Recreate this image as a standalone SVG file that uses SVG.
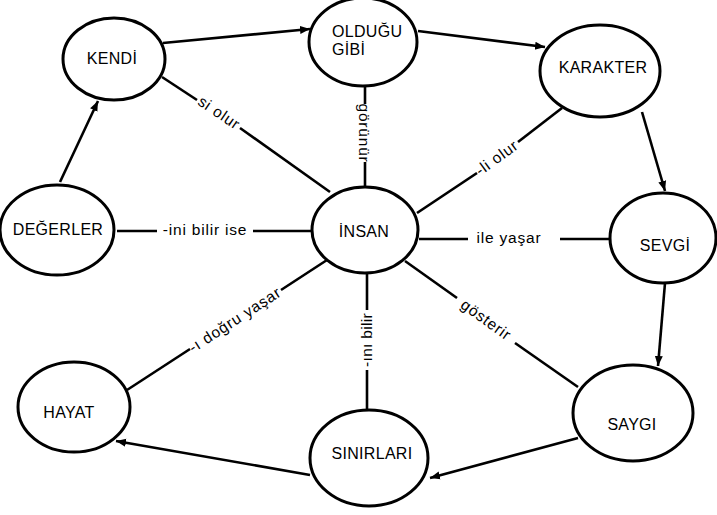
<svg xmlns="http://www.w3.org/2000/svg" width="717" height="515" viewBox="0 0 717 515">
<style>
.node ellipse{fill:#fff;stroke:#000;stroke-width:3}
.node text{font-family:"Liberation Sans",Arial,sans-serif;font-size:16px;fill:#000;text-anchor:middle;letter-spacing:0.3px}
.edges line{stroke:#000;stroke-width:2.6;fill:none}
.lbl{font-family:"Liberation Sans",Arial,sans-serif;font-size:15.5px;fill:#000;text-anchor:middle;letter-spacing:0.8px}
</style>
<defs>
<marker id="arr" markerUnits="userSpaceOnUse" markerWidth="11" markerHeight="10" refX="10" refY="5" orient="auto">
<path d="M0,1 L10,5 L0,9 z" fill="#000"/>
</marker>
</defs>
<rect width="717" height="515" fill="#fff"/>
<g id="connectors" class="edges">
<line x1="163" y1="43" x2="310" y2="29" marker-end="url(#arr)"/>
<line x1="418" y1="31" x2="545" y2="47" marker-end="url(#arr)"/>
<line x1="642" y1="112" x2="665" y2="191" marker-end="url(#arr)"/>
<line x1="665" y1="283" x2="658" y2="366" marker-end="url(#arr)"/>
<line x1="578" y1="438" x2="430" y2="478" marker-end="url(#arr)"/>
<line x1="310" y1="475" x2="116" y2="441" marker-end="url(#arr)"/>
<line x1="60" y1="182" x2="98" y2="101" marker-end="url(#arr)"/>
<line x1="117" y1="231" x2="157" y2="231"/>
<line x1="253" y1="231" x2="312" y2="231"/>
<line x1="419" y1="239" x2="468" y2="239"/>
<line x1="560" y1="239" x2="611" y2="239"/>
<line x1="162" y1="77" x2="197" y2="100"/>
<line x1="240" y1="128" x2="330" y2="192"/>
<line x1="365" y1="86" x2="365" y2="104"/>
<line x1="365" y1="162" x2="365" y2="188"/>
<line x1="562" y1="108" x2="518" y2="142"/>
<line x1="477" y1="173" x2="417" y2="213"/>
<line x1="327" y1="260" x2="281" y2="290"/>
<line x1="190" y1="349" x2="127" y2="390"/>
<line x1="367" y1="273" x2="367" y2="310"/>
<line x1="367" y1="370" x2="367" y2="411"/>
<text class="lbl" x="205" y="235">-ini bilir ise</text>
<text class="lbl" x="509" y="243">ile yaşar</text>
<text class="lbl" transform="translate(219,113) rotate(34)" y="5">si olur</text>
<text class="lbl" transform="translate(364,133) rotate(90)" y="5">görünür</text>
<text class="lbl" transform="translate(497,158) rotate(-36)" y="5">-li olur</text>
<text class="lbl" transform="translate(235,320) rotate(-33)" y="5">-ı doğru yaşar</text>
<text class="lbl" transform="translate(367,340) rotate(-90)" y="5" style="letter-spacing:0.3px">-ını bilir</text>
<text class="lbl" transform="translate(486,320) rotate(36)" y="5">gösterir</text>
<line x1="405" y1="261" x2="457" y2="298"/>
<line x1="515" y1="343" x2="578" y2="387"/>
</g>
<g id="kendi" class="node"><ellipse cx="114" cy="59" rx="51" ry="41"/><text x="112" y="64">KENDİ</text></g>
<g id="oldugu-gibi" class="node"><ellipse cx="363" cy="42" rx="54" ry="44"/><text x="332" y="37" style="text-anchor:start">OLDUĞU</text><text x="332" y="55" style="text-anchor:start">GİBİ</text></g>
<g id="karakter" class="node"><ellipse cx="600" cy="71" rx="60" ry="46"/><text x="603" y="73">KARAKTER</text></g>
<g id="degerler" class="node"><ellipse cx="57" cy="230" rx="57" ry="45"/><text x="58" y="235">DEĞERLER</text></g>
<g id="insan" class="node"><ellipse cx="365" cy="230" rx="53" ry="43"/><text x="364" y="237">İNSAN</text></g>
<g id="sevgi" class="node"><ellipse cx="663" cy="238" rx="53" ry="45"/><text x="665" y="251">SEVGİ</text></g>
<g id="saygi" class="node"><ellipse cx="633" cy="413" rx="60" ry="48"/><text x="632" y="430">SAYGI</text></g>
<g id="sinirlari" class="node"><ellipse cx="369" cy="458" rx="59" ry="48"/><text x="372" y="459">SINIRLARI</text></g>
<g id="hayat" class="node"><ellipse cx="74" cy="407" rx="56" ry="45"/><text x="69" y="418">HAYAT</text></g>
</svg>
